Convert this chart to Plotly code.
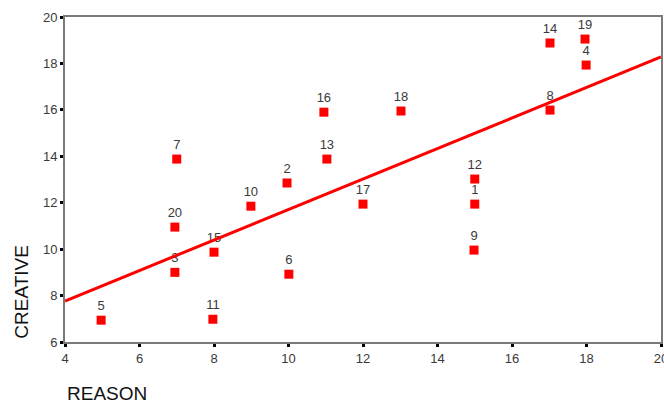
import numpy as np
import plotly.graph_objects as go

# Case numbers and their REASON / CREATIVE scores
case_ids = [str(i) for i in range(1, 21)]
reason = [15.0, 9.96, 6.95, 17.99, 4.97, 10.01, 7.0, 17.02, 14.98, 8.99,
          7.97, 15.0, 11.03, 17.02, 8.0, 10.95, 12.0, 13.02, 17.96, 6.95]
creative = [11.94, 12.85, 9.0, 17.93, 6.94, 8.92, 13.88, 15.99, 9.96, 11.85,
            6.98, 13.02, 13.88, 18.88, 9.87, 15.9, 11.94, 15.95, 19.05, 10.95]

x_ticks = [4, 6, 8, 10, 12, 14, 16, 18, 20]
y_ticks = [6, 8, 10, 12, 14, 16, 18, 20]

# Least-squares fit line across the full x range
slope, intercept = np.polyfit(reason, creative, 1)
fit_x = [4, 20]
fit_y = [intercept + slope * v for v in fit_x]

RED = "#ff0000"
AXIS = "#7a7a7a"
TEXT = "#3a3a3a"
FONT = "Liberation Sans, Arial, sans-serif"

fig = go.Figure()
fig.add_trace(go.Scatter(
    x=reason, y=creative, mode="markers+text",
    marker=dict(symbol="square", size=9, color=RED),
    text=case_ids, textposition="top center",
    textfont=dict(family=FONT, size=13, color=TEXT),
    hoverinfo="skip", showlegend=False, cliponaxis=False,
))
fig.add_trace(go.Scatter(
    x=fit_x, y=fit_y, mode="lines",
    line=dict(color=RED, width=3),
    hoverinfo="skip", showlegend=False,
))

axis_common = dict(
    showgrid=False, zeroline=False,
    showline=True, linecolor=AXIS, linewidth=2, mirror=True,
    ticks="outside", ticklen=3, tickwidth=3, tickcolor="#000000",
    tickfont=dict(family=FONT, size=13, color=TEXT),
    ticklabeloverflow="allow", automargin=False,
)
fig.update_xaxes(range=[4, 20], tickvals=x_ticks, **axis_common)
fig.update_yaxes(range=[6, 20], tickvals=y_ticks, **axis_common)

fig.update_layout(
    width=664, height=403,
    margin=dict(l=65, r=3, t=17, b=61),
    paper_bgcolor="white", plot_bgcolor="white",
    annotations=[
        dict(text="REASON", xref="paper", yref="paper", x=0.0, y=-0.157,
             xanchor="left", yanchor="middle", showarrow=False,
             font=dict(family=FONT, size=19, color="#111111")),
        dict(text="CREATIVE", xref="paper", yref="paper", x=-0.072, y=0.155,
             xanchor="center", yanchor="middle", textangle=-90, showarrow=False,
             font=dict(family=FONT, size=19, color="#111111")),
    ],
)

fig.write_html("out.html")
